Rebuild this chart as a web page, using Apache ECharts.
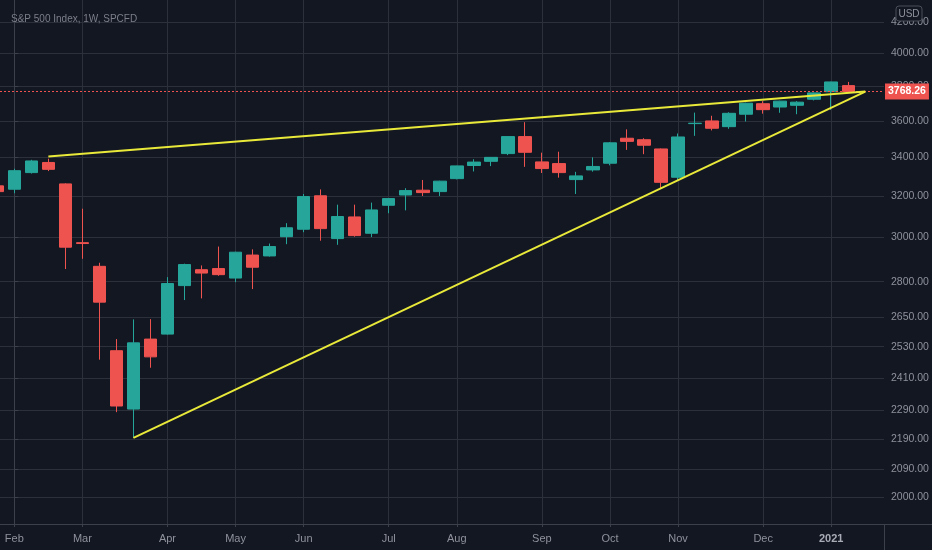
<!DOCTYPE html>
<html>
<head>
<meta charset="utf-8">
<script src="https://cdn.jsdelivr.net/npm/echarts@6/dist/echarts.min.js"></script>
<style>
html,body{margin:0;padding:0;background:#131722;}
#chart{width:932px;height:550px;}
</style>
</head>
<body>
<div id="chart"></div>
<script>
// Weekly bars (Monday of each week), S&P 500, 1W
const weeks = [
  '2020-01-27','2020-02-03','2020-02-10','2020-02-18','2020-02-24','2020-03-02','2020-03-09','2020-03-16',
  '2020-03-23','2020-03-30','2020-04-06','2020-04-13','2020-04-20','2020-04-27','2020-05-04','2020-05-11',
  '2020-05-18','2020-05-26','2020-06-01','2020-06-08','2020-06-15','2020-06-22','2020-06-29','2020-07-06',
  '2020-07-13','2020-07-20','2020-07-27','2020-08-03','2020-08-10','2020-08-17','2020-08-24','2020-08-31',
  '2020-09-08','2020-09-14','2020-09-21','2020-09-28','2020-10-05','2020-10-12','2020-10-19','2020-10-26',
  '2020-11-02','2020-11-09','2020-11-16','2020-11-23','2020-11-30','2020-12-07','2020-12-14','2020-12-21',
  '2020-12-28','2021-01-04','2021-01-11'
];
const openP  = [3252,3235,3320,3373,3262,2976,2868,2514,2295,2560,2580,2783,2853,2858,2816,2919,
                2915,3004,3039,3202,2995,3098,3020,3155,3206,3230,3223,3289,3357,3379,3420,3512,
                3376,3367,3284,3334,3369,3503,3495,3445,3296,3584,3599,3567,3637,3697,3678,3688,
                3723,3767,3803];
const closeP = [3223,3330,3381,3337,2955,2972,2712,2306,2545,2490,2792,2876,2838,2831,2932,2864,
                2958,3046,3198,3042,3100,3009,3132,3188,3228,3218,3276,3355,3375,3400,3512,3427,
                3341,3320,3303,3352,3478,3486,3465,3270,3510,3586,3558,3642,3700,3663,3712,3706,
                3760,3825,3768.26];
const lowP   = [3214,3215,3315,3328,2856,2902,2479,2284,2194,2448,2578,2721,2728,2826,2798,2768,
                2912,2969,3025,2985,2966,3004,3002,3116,3130,3201,3201,3285,3326,3354,3412,3350,
                3318,3294,3211,3325,3358,3440,3417,3240,3280,3516,3546,3555,3596,3640,3645,3637,
                3716,3662,3760];
const highP  = [3260,3340,3387,3393,3265,3138,2884,2560,2640,2641,2820,2880,2872,2958,2934,2945,
                2972,3068,3211,3234,3158,3158,3168,3190,3240,3282,3278,3356,3390,3402,3514,3592,
                3425,3430,3324,3400,3482,3552,3503,3447,3529,3646,3628,3648,3703,3712,3714,3712,
                3762,3826,3825];
const firstBarIndex = -1;   // the Jan 27 bar sits just left of the visible window

const monthTickIndex = [0,4,9,13,17,22,26,31,35,39,44,48];
const monthLabels    = ['Feb','Mar','Apr','May','Jun','Jul','Aug','Sep','Oct','Nov','Dec','2021'];
const priceTicks = [2000,2090,2190,2290,2410,2530,2650,2800,3000,3200,3400,3600,3800,4000,4200];
const lastPrice = 3768.26;
const upperTrend = [[2, 3404], [50, 3768]];
const lowerTrend = [[7, 2194], [50, 3768]];

const UP = '#26a69a', DOWN = '#ef5350';
const GRID = '#2c303b', AXIS = '#3c404b', TXT = '#8f929b';
const FONT = "'Liberation Sans',Arial,sans-serif";

const bars = weeks.map((d, i) => [i + firstBarIndex, openP[i], closeP[i], lowP[i], highP[i]]);
const labelOf = {};
monthTickIndex.forEach((v, k) => { labelOf[v] = monthLabels[k]; });

const chart = echarts.init(document.getElementById('chart'), null, {renderer: 'canvas'});
chart.setOption({
  backgroundColor: '#131722',
  animation: false,
  title: {
    text: 'S&P 500 Index, 1W, SPCFD', left: 6, top: 9,
    textStyle: {color: '#7c7f89', fontSize: 10, fontWeight: 'normal', fontFamily: FONT}
  },
  grid: {left: 0, right: 48, top: 0, bottom: 26, outerBoundsMode: 'none', containLabel: false},
  xAxis: {
    type: 'value', min: -0.84, max: 51.1,
    axisLine: {show: true, lineStyle: {color: AXIS}},
    axisTick: {show: true, customValues: monthTickIndex, length: 3, lineStyle: {color: AXIS}},
    axisLabel: {
      customValues: monthTickIndex, margin: 9, fontSize: 11, color: TXT, fontFamily: FONT,
      formatter: v => labelOf[v] === '2021' ? '{b|2021}' : (labelOf[v] || ''),
      rich: {b: {fontWeight: 'bold', color: '#a9acb5', fontSize: 11, fontFamily: FONT}}
    },
    splitLine: {show: true, customValues: monthTickIndex, lineStyle: {color: GRID, width: 1}}
  },
  yAxis: {
    type: 'log', position: 'right', min: 1918, max: 4347,
    axisLine: {show: true, lineStyle: {color: AXIS}},
    axisTick: {show: true, customValues: priceTicks, length: 4, lineStyle: {color: AXIS}},
    axisLabel: {
      customValues: priceTicks, margin: 7, fontSize: 10.5, color: TXT, fontFamily: FONT,
      formatter: v => Number(v).toFixed(2)
    },
    splitLine: {show: true, customValues: priceTicks, lineStyle: {color: GRID, width: 1}}
  },
  series: [{
    type: 'candlestick',
    data: bars,
    encode: {x: 0, y: [1, 2, 3, 4]},
    barWidth: 13,
    itemStyle: {color: UP, color0: DOWN, borderColor: UP, borderColor0: DOWN, borderWidth: 1},
    markLine: {
      silent: true, symbol: ['none', 'none'], animation: false,
      data: [
        {
          yAxis: lastPrice,
          lineStyle: {color: DOWN, width: 1, type: [2, 2], opacity: 1},
          label: {
            show: true, position: 'end', distance: 1, formatter: lastPrice.toFixed(2),
            color: '#ffffff', backgroundColor: DOWN, padding: [3, 3, 2, 3],
            fontSize: 10.5, fontFamily: FONT, fontWeight: 'bold'
          }
        },
        [{coord: upperTrend[0], lineStyle: {color: '#e9e93a', width: 2, type: 'solid'}, label: {show: false}},
         {coord: upperTrend[1]}],
        [{coord: lowerTrend[0], lineStyle: {color: '#e9e93a', width: 2, type: 'solid'}, label: {show: false}},
         {coord: lowerTrend[1]}]
      ]
    }
  }],
  graphic: [
    {type: 'line', shape: {x1: 884, y1: 524.5, x2: 932, y2: 524.5}, style: {stroke: AXIS, lineWidth: 1}, z: 1},
    {type: 'line', shape: {x1: 884.5, y1: 524, x2: 884.5, y2: 550}, style: {stroke: AXIS, lineWidth: 1}, z: 1},
    {type: 'rect', shape: {x: 896, y: 6, width: 26, height: 15, r: 3},
     style: {fill: '#131722', stroke: '#4a4e59', lineWidth: 1}, z: 100},
    {type: 'text', x: 909, y: 14, style: {text: 'USD', fill: '#8f929b', fontSize: 10, fontFamily: FONT,
     textAlign: 'center', textVerticalAlign: 'middle'}, z: 101}
  ]
});
</script>
</body>
</html>
